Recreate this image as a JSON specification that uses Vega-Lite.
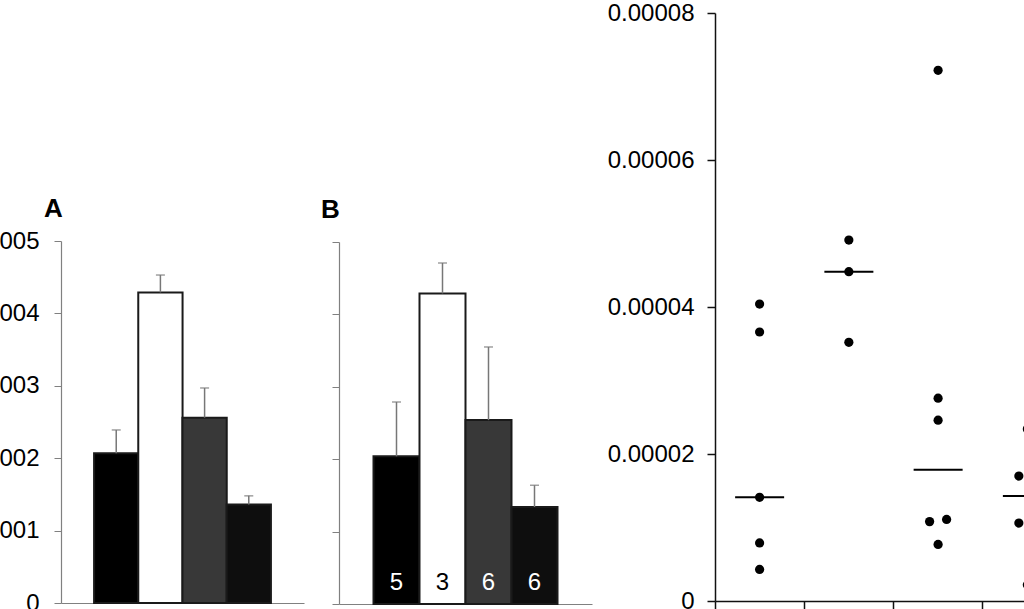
{
  "$schema": "https://vega.github.io/schema/vega-lite/v6.json",
  "padding": {"left": -35, "top": 1, "right": -46, "bottom": 0},
  "background": "#ffffff",
  "datasets": {
    "barsA": [
      {"group": "g1", "mean": 0.000207, "upper": 0.000239},
      {"group": "g2", "mean": 0.000429, "upper": 0.000453},
      {"group": "g3", "mean": 0.000256, "upper": 0.000297},
      {"group": "g4", "mean": 0.000136, "upper": 0.000148}
    ],
    "barsB": [
      {"group": "g1", "mean": 0.000204, "upper": 0.000279, "n": 5},
      {"group": "g2", "mean": 0.000429, "upper": 0.000471, "n": 3},
      {"group": "g3", "mean": 0.000254, "upper": 0.000355, "n": 6},
      {"group": "g4", "mean": 0.000134, "upper": 0.000164, "n": 6}
    ],
    "dots": [
      {"group": "g1", "side": "C", "value": 0.0000404},
      {"group": "g1", "side": "C", "value": 0.0000366},
      {"group": "g1", "side": "C", "value": 0.0000141},
      {"group": "g1", "side": "C", "value": 0.0000079},
      {"group": "g1", "side": "C", "value": 0.0000043},
      {"group": "g2", "side": "C", "value": 0.0000491},
      {"group": "g2", "side": "C", "value": 0.0000448},
      {"group": "g2", "side": "C", "value": 0.0000352},
      {"group": "g3", "side": "C", "value": 0.0000722},
      {"group": "g3", "side": "C", "value": 0.0000276},
      {"group": "g3", "side": "C", "value": 0.0000246},
      {"group": "g3", "side": "L", "value": 0.0000108},
      {"group": "g3", "side": "R", "value": 0.0000111},
      {"group": "g3", "side": "C", "value": 0.0000077},
      {"group": "g4", "side": "C", "value": 0.0000234},
      {"group": "g4", "side": "L", "value": 0.0000170},
      {"group": "g4", "side": "R", "value": 0.0000175},
      {"group": "g4", "side": "R", "value": 0.0000116},
      {"group": "g4", "side": "L", "value": 0.0000106},
      {"group": "g4", "side": "C", "value": 0.0000022}
    ]
  },
  "spacing": 15,
  "hconcat": [
    {
      "spacing": 17,
      "hconcat": [
        {
          "spacing": 10,
          "vconcat": [
            {"width": 243, "height": 173, "data": {"values": []}, "mark": "point"},
            {
              "width": 243,
              "height": 362,
              "data": {"name": "barsA"},
              "title": {"text": "A", "anchor": "start", "frame": "group", "dx": -17, "fontSize": 26, "fontWeight": "bold", "offset": 7},
              "encoding": {
                "x": {"field": "group", "type": "nominal", "scale": {"type": "band", "paddingInner": 0, "paddingOuter": 0.75},
                  "axis": {"labels": false, "ticks": false, "title": null, "domainColor": "#808080", "domainWidth": 1.2}}
              },
              "layer": [
                {
                  "mark": {"type": "bar", "stroke": "#1a1a1a", "strokeWidth": 2, "width": 44.3},
                  "encoding": {
                    "y": {"field": "mean", "type": "quantitative", "scale": {"domain": [0, 0.0005]},
                      "axis": {"values": [0, 0.0001, 0.0002, 0.0003, 0.0004, 0.0005],
                        "labelExpr": "datum.value == 0 ? '0' : format(datum.value, '.4f')",
                        "title": null, "grid": false, "tickSize": 7, "labelPadding": 15, "labelFontSize": 24,
                        "labelColor": "#000000", "domainColor": "#808080", "tickColor": "#808080", "domainWidth": 1.2}},
                    "color": {"field": "group", "type": "nominal", "legend": null,
                      "scale": {"domain": ["g1", "g2", "g3", "g4"], "range": ["#000000", "#ffffff", "#383838", "#0e0e0e"]}}
                  }
                },
                {
                  "mark": {"type": "rule", "color": "#777777", "strokeWidth": 1.5},
                  "encoding": {"y": {"field": "mean", "type": "quantitative"}, "y2": {"field": "upper"}}
                },
                {
                  "mark": {"type": "tick", "color": "#777777", "size": 9, "thickness": 1.5},
                  "encoding": {"y": {"field": "upper", "type": "quantitative"}}
                }
              ]
            }
          ]
        },
        {
          "spacing": 10,
          "vconcat": [
            {"width": 253, "height": 173, "data": {"values": []}, "mark": "point"},
            {
              "width": 253,
              "height": 362,
              "data": {"name": "barsB"},
              "title": {"text": "B", "anchor": "start", "frame": "group", "dx": -18, "fontSize": 26, "fontWeight": "bold", "offset": 19},
              "encoding": {
                "x": {"field": "group", "type": "nominal", "scale": {"type": "band", "paddingInner": 0, "paddingOuter": 0.75},
                  "axis": {"labels": false, "ticks": false, "title": null, "domainColor": "#808080", "domainWidth": 1.2}}
              },
              "layer": [
                {
                  "mark": {"type": "bar", "stroke": "#1a1a1a", "strokeWidth": 2, "width": 46},
                  "encoding": {
                    "y": {"field": "mean", "type": "quantitative", "scale": {"domain": [0, 0.0005]},
                      "axis": {"values": [0, 0.0001, 0.0002, 0.0003, 0.0004, 0.0005], "labels": false,
                        "title": null, "grid": false, "tickSize": 7,
                        "domainColor": "#808080", "tickColor": "#808080", "domainWidth": 1.2}},
                    "color": {"field": "group", "type": "nominal", "legend": null,
                      "scale": {"domain": ["g1", "g2", "g3", "g4"], "range": ["#000000", "#ffffff", "#383838", "#0e0e0e"]}}
                  }
                },
                {
                  "mark": {"type": "rule", "color": "#777777", "strokeWidth": 1.5},
                  "encoding": {"y": {"field": "mean", "type": "quantitative"}, "y2": {"field": "upper"}}
                },
                {
                  "mark": {"type": "tick", "color": "#777777", "size": 9, "thickness": 1.5},
                  "encoding": {"y": {"field": "upper", "type": "quantitative"}}
                },
                {
                  "mark": {"type": "text", "fontSize": 24, "baseline": "alphabetic", "dy": -14},
                  "encoding": {
                    "y": {"datum": 0, "type": "quantitative"},
                    "text": {"field": "n", "type": "quantitative"},
                    "color": {"field": "group", "type": "nominal", "legend": null,
                      "scale": {"domain": ["g1", "g2", "g3", "g4"], "range": ["#ffffff", "#000000", "#ffffff", "#ffffff"]}}
                  }
                }
              ],
              "resolve": {"scale": {"color": "independent"}}
            }
          ]
        }
      ]
    },
    {
      "width": 357,
      "height": 588,
      "data": {"name": "dots"},
      "encoding": {
        "x": {"field": "group", "type": "nominal", "scale": {"type": "band", "paddingInner": 0, "paddingOuter": 0},
          "axis": {"labels": false, "title": null, "bandPosition": 0, "tickSize": 8,
            "domainColor": "#111111", "tickColor": "#111111", "domainWidth": 1.5, "tickWidth": 1.5}}
      },
      "layer": [
        {
          "mark": {"type": "point", "filled": true, "size": 85, "color": "#000000", "opacity": 1},
          "encoding": {
            "xOffset": {"field": "side", "type": "nominal",
              "scale": {"type": "point", "domain": ["L", "C", "R"], "padding": 0, "range": [36.1, 53.1]}},
            "y": {"field": "value", "type": "quantitative", "scale": {"domain": [0, 0.00008]},
              "axis": {"values": [0, 0.00002, 0.00004, 0.00006, 0.00008],
                "labelExpr": "datum.value == 0 ? '0' : format(datum.value, '.5f')",
                "title": null, "grid": false, "tickSize": 8, "labelPadding": 13, "labelFontSize": 24,
                "labelColor": "#000000", "domainColor": "#111111", "tickColor": "#111111", "domainWidth": 1.5, "tickWidth": 1.5}}
          }
        },
        {
          "mark": {"type": "tick", "size": 49, "thickness": 2, "color": "#000000"},
          "encoding": {"y": {"aggregate": "median", "field": "value", "type": "quantitative"}}
        }
      ]
    }
  ],
  "config": {
    "font": "Liberation Sans",
    "view": {"stroke": null}
  }
}
